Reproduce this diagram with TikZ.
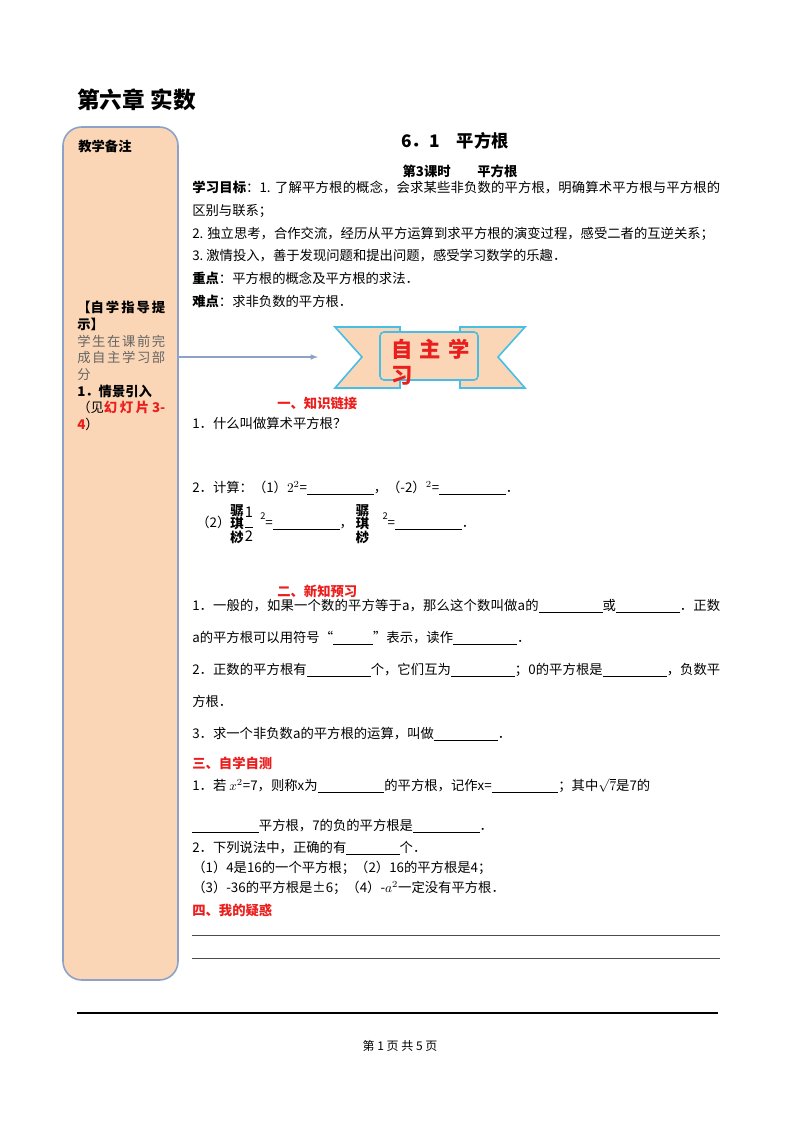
\documentclass[tikz,border=0pt]{standalone}
\usepackage{amsmath}
\usepackage{fontspec}
\setmainfont{Liberation Serif}
\newfontfamily\cjk{Noto Sans CJK SC}
\XeTeXlinebreaklocale "zh"
\XeTeXlinebreakskip=0pt plus 1pt
\usetikzlibrary{positioning}
\definecolor{notefill}{RGB}{250, 214, 182}
\definecolor{noteline}{RGB}{142, 162, 200}
\definecolor{bannerline}{RGB}{70, 190, 230}
\definecolor{headred}{RGB}{235, 30, 30}
\newcommand{\blank}[1]{\underline{\hspace{#1}}}
\newcommand{\brokenparen}{\parbox[c]{10pt}{\fontsize{10pt}{10pt}\selectfont\bfseries 骣\\琪\\桫}}
\newcommand{\halfstack}{\parbox[c]{8pt}{\centering\fontsize{11pt}{11pt}\selectfont 1\\[-3pt]\rule{6pt}{0.4pt}\\[-1pt]2}}

\begin{document}
\begin{tikzpicture}[
    x=0.75pt, y=-0.75pt,
    body/.style={anchor=west, inner sep=0pt, font=\cjk\fontsize{10pt}{17pt}\selectfont},
    para/.style={body, anchor=north west, text width=396pt, align=justify},
    section/.style={anchor=west, inner sep=0pt, font=\cjk\bfseries\fontsize{10pt}{12pt}\selectfont, text=headred},
    side/.style={anchor=north west, inner sep=0pt, text width=66pt, align=justify, font=\cjk\fontsize{10pt}{12.5pt}\selectfont},
    ribbon/.style={draw=bannerline, line width=1.2pt, fill=notefill},
    arrow/.style={draw=noteline, line width=0.9pt, -latex}
]
\useasboundingbox (0,0) rectangle (800,1132);

% chapter title and side column
\node (chapter) [anchor=west, inner sep=0pt, font=\cjk\bfseries\fontsize{17pt}{20pt}\selectfont] at (77,100) {第六章\ 实数};
\draw [draw=noteline, line width=1.2pt, fill=notefill, rounded corners=14pt] (63,127) rectangle (178,980);
\node (notes) [body, font=\cjk\bfseries\fontsize{10pt}{12pt}\selectfont] at (78,146) {教学备注};
\node (guide) [side] at (77,301) {\textbf{【自学指导提示】}\par
  {\color{black!60}学生在课前完成自主学习部分}\par
  \textbf{1．情景引入}\par
  （见\textcolor{headred}{\textbf{幻灯片3-4}}）};
\coordinate (arrowstart) at (178,357);

% headings
\node (sectitle) [inner sep=0pt, font=\cjk\bfseries\fontsize{13pt}{15pt}\selectfont] at (455,141) {6．1\quad 平方根};
\node (lesson) [inner sep=0pt, font=\cjk\bfseries\fontsize{10pt}{12pt}\selectfont] at (460,171) {第3课时\qquad 平方根};

\node (goals) [para] at (192,181) {\textbf{学习目标}：1. 了解平方根的概念，会求某些非负数的平方根，明确算术平方根与平方根的区别与联系；\par
2. 独立思考，合作交流，经历从平方运算到求平方根的演变过程，感受二者的互逆关系；\par
3.\ 激情投入，善于发现问题和提出问题，感受学习数学的乐趣．\par
\textbf{重点}：平方根的概念及平方根的求法．\par
\textbf{难点}：求非负数的平方根．};

% banner
\draw [ribbon] (335,327) -- (400,327) -- (400,388) -- (335,388) -- (362,357) -- cycle;
\draw [ribbon] (525,327) -- (460,327) -- (460,388) -- (525,388) -- (498,357) -- cycle;
\draw [ribbon, rounded corners=3pt] (380,332) rectangle (478,380);
\node (banner) [anchor=north west, inner sep=0pt, text width=82pt, align=left, font=\cjk\bfseries\fontsize{16pt}{19pt}\selectfont, text=headred] at (391,339) {自\ 主\ 学\\习};
\coordinate (arrowend) at (318,357);
\draw [arrow] (arrowstart) -- (arrowend);

% part one
\node (link) [section] at (277,403) {一、知识链接};
\node (q1) [body] at (192,423) {1．什么叫做算术平方根？};
\node (q2) [body] at (192,488) {2．计算：（1）$2^2$=\blank{50pt}，（-2）$^2$=\blank{50pt}．};
\node (q3) [body] at (196,524) {（2）\brokenparen\halfstack\ \ \raisebox{6pt}{\scriptsize 2}=\blank{50pt}，\ \brokenparen\quad\raisebox{6pt}{\scriptsize 2}=\blank{50pt}．};

% part two
\node (preview) [section] at (277,591) {二、新知预习};
\node (p1) [para, font=\cjk\fontsize{10pt}{24pt}\selectfont] at (192,599) {1．一般的，如果一个数的平方等于a，那么这个数叫做a的\blank{48pt}或\blank{48pt}．正数a的平方根可以用符号“\blank{30pt}”表示，读作\blank{48pt}．\par
2．正数的平方根有\blank{48pt}个，它们互为\blank{48pt}；0的平方根是\blank{48pt}，负数平方根．\par
3．求一个非负数a的平方根的运算，叫做\blank{48pt}．};

% part three
\node (test) [section] at (192,763) {三、自学自测};
\node (t1) [body] at (192,786) {1．若 $x^2$=7，则称x为\blank{50pt}的平方根，记作x=\blank{50pt}；其中$\sqrt{7}$是7的};
\node (t2) [body] at (192,826) {\blank{50pt}平方根，7的负的平方根是\blank{50pt}．};
\node (t3) [body] at (192,848) {2．下列说法中，正确的有\blank{40pt}个．};
\node (t4) [body] at (192,868) {（1）4是16的一个平方根；（2）16的平方根是4；};
\node (t5) [body] at (192,888) {（3）-36的平方根是±6；（4）-$a^2$一定没有平方根．};

% part four
\node (doubt) [section] at (192,910) {四、我的疑惑};
\draw [black!70, line width=0.6pt] (192,935) -- (720,935);
\draw [black!70, line width=0.6pt] (192,958) -- (720,958);

% footer
\draw [line width=1pt] (77,1013) -- (718,1013);
\node (footer) [inner sep=0pt, font=\cjk\fontsize{9pt}{11pt}\selectfont] at (400,1046) {第\ 1\ 页\ 共\ 5\ 页};
\end{tikzpicture}
\end{document}
